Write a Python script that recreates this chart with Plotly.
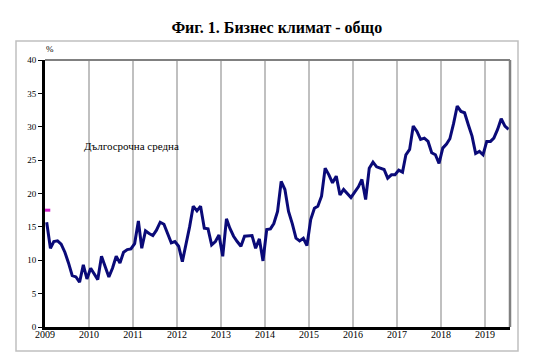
import pandas as pd
import plotly.graph_objects as go

# Monthly business climate indicator, Jan 2009 - Jul 2019 (%)
climate = [
    15.7, 11.8, 12.8, 12.9, 12.4, 11.2, 9.6, 7.7, 7.5, 6.7, 9.3, 7.2,          # 2009
    8.8, 7.8, 7.1, 10.6, 9.2, 7.5, 8.8, 10.6, 9.6, 11.2, 11.6, 11.7,          # 2010
    12.5, 15.9, 11.8, 14.4, 14.0, 13.7, 14.5, 15.7, 15.4, 14.0, 12.6, 12.8,   # 2011
    12.1, 9.8, 12.1, 15.0, 18.1, 17.4, 18.1, 14.8, 14.7, 12.3, 12.8, 13.8,    # 2012
    10.6, 16.2, 14.8, 13.6, 12.8, 12.1, 13.6, 13.6, 13.7, 11.8, 13.2, 9.9,    # 2013
    14.6, 14.7, 15.5, 17.3, 21.8, 20.6, 17.3, 15.5, 13.3, 12.9, 13.3, 12.2,   # 2014
    16.1, 17.8, 18.1, 19.6, 23.8, 22.8, 21.6, 22.6, 19.8, 20.6, 20.0, 19.4,   # 2015
    20.2, 21.0, 22.1, 19.1, 23.8, 24.7, 24.0, 23.8, 23.6, 22.3, 22.8, 22.8,   # 2016
    23.5, 23.2, 25.8, 26.6, 30.1, 29.3, 28.1, 28.3, 27.8, 26.1, 25.8, 24.5,   # 2017
    26.8, 27.4, 28.2, 30.5, 33.1, 32.3, 32.1, 30.3, 28.6, 26.0, 26.3, 25.8,   # 2018
    27.8, 27.8, 28.3, 29.6, 31.2, 30.1, 29.6,                                 # 2019
]
long_term_avg = [17.5]
year_labels = [str(y) for y in range(2009, 2020)]

title_text = "Фиг. 1. Бизнес климат - общо"
avg_label = "Дългосрочна средна"
unit_label = "%"

dates = pd.date_range("2009-01-01", periods=len(climate), freq="MS") + pd.Timedelta(days=14)
tick_vals = [pd.Timestamp(f"{y}-01-01") for y in year_labels]

serif = "Liberation Serif, Times New Roman, serif"

fig = go.Figure()
fig.add_trace(go.Scatter(
    x=dates, y=climate, mode="lines",
    line=dict(color="#0a0a78", width=3), showlegend=False, hoverinfo="skip"))
fig.add_trace(go.Scatter(
    x=[pd.Timestamp("2009-01-10")], y=long_term_avg, mode="markers",
    marker=dict(symbol="line-ew", size=6, line=dict(color="#d020c8", width=3)),
    showlegend=False, hoverinfo="skip"))

W, H = 541, 361
L, R, T, B = 37, 39, 52, 42
pw, ph = W - L - R, H - T - B

def px_x(x):
    return (x - L) / pw

def px_y(y):
    return (H - B - y) / ph

shapes = [
    # outer frame
    dict(type="rect", xref="paper", yref="paper",
         x0=px_x(8), x1=px_x(510), y0=px_y(343), y1=px_y(33),
         line=dict(color="#c0c0c0", width=1.5), fillcolor="rgba(0,0,0,0)", layer="below"),
    # top border of plot
    dict(type="line", xref="paper", yref="paper", x0=0, x1=1, y0=1, y1=1,
         line=dict(color="#808080", width=2)),
    # right border of plot
    dict(type="line", xref="paper", yref="paper", x0=1, x1=1, y0=0, y1=1,
         line=dict(color="#808080", width=2.5)),
]

fig.update_layout(
    width=W, height=H,
    margin=dict(l=L, r=R, t=T, b=B),
    paper_bgcolor="white", plot_bgcolor="white",
    shapes=shapes,
    title=dict(text=f"<b>{title_text}</b>", x=px_x(268), xanchor="center",
               y=1 - 19 / H, yanchor="middle",
               font=dict(family=serif, size=16, color="black")),
    annotations=[
        dict(text=unit_label, xref="paper", yref="paper", x=px_x(42), y=px_y(41),
             showarrow=False, xanchor="center", yanchor="middle",
             font=dict(family=serif, size=9, color="black")),
        dict(text=avg_label, xref="paper", yref="paper", x=px_x(123), y=px_y(138),
             showarrow=False, xanchor="center", yanchor="middle",
             font=dict(family=serif, size=11, color="black")),
    ],
    xaxis=dict(
        type="date", range=["2009-01-01", "2019-07-27"],
        tickvals=tick_vals, ticktext=year_labels, ticks="",
        ticklabelstandoff=-4,
        showgrid=True, gridcolor="#c0c0c0", gridwidth=2,
        showline=True, linecolor="black", linewidth=3,
        tickfont=dict(family=serif, size=10, color="black"),
        zeroline=False, fixedrange=True),
    yaxis=dict(
        range=[0, 40], tickvals=list(range(0, 41, 5)),
        showgrid=False, zeroline=False,
        showline=True, linecolor="black", linewidth=3,
        ticks="outside", ticklen=4, tickcolor="black", tickwidth=1,
        tickfont=dict(family=serif, size=9, color="black"),
        fixedrange=True),
)

fig.write_html("out.html")
